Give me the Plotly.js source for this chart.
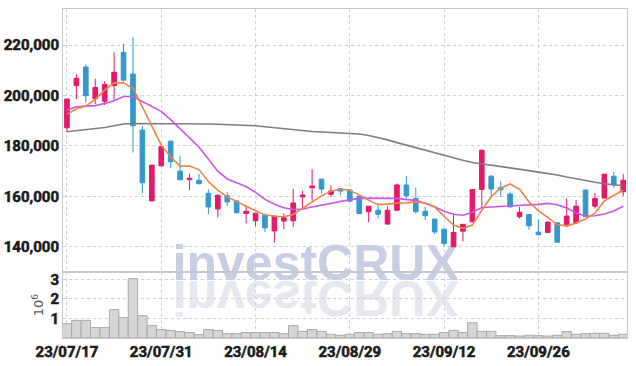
<!DOCTYPE html>
<html>
<head>
<meta charset="utf-8">
<script src="https://cdn.plot.ly/plotly-3.0.1.min.js"></script>
<style>
html,body{margin:0;padding:0;background:#fff;}
#chart{width:636px;height:366px;}
.xaxislayer-above text, .yaxislayer-above text {stroke:#1a1a1a; stroke-width:0.55px;}
</style>
</head>
<body>
<div id="chart"></div>
<script>
// Trading days (yy/mm/dd)
const dates = ["23/07/17","23/07/18","23/07/19","23/07/20","23/07/21","23/07/24","23/07/25","23/07/26","23/07/27","23/07/28",
"23/07/31","23/08/01","23/08/02","23/08/03","23/08/04","23/08/07","23/08/08","23/08/09","23/08/10","23/08/11",
"23/08/14","23/08/16","23/08/17","23/08/18","23/08/21","23/08/22","23/08/23","23/08/24","23/08/25","23/08/28",
"23/08/29","23/08/30","23/08/31","23/09/01","23/09/04","23/09/05","23/09/06","23/09/07","23/09/08","23/09/11",
"23/09/12","23/09/13","23/09/14","23/09/15","23/09/18","23/09/19","23/09/20","23/09/21","23/09/22","23/09/25",
"23/09/26","23/09/27","23/10/04","23/10/05","23/10/06","23/10/10","23/10/11","23/10/12","23/10/13","23/10/16"];

const openP  = [187200,203900,211300,198700,197700,203900,217100,208500,186300,158200,
172100,181900,170000,166600,166400,161200,155000,160200,158200,153200,
150300,152500,146300,150200,150300,159800,163400,166800,160800,163000,
162500,160100,153900,154500,149000,154500,164500,159200,154100,151000,
147000,140000,146200,149900,162700,168000,163400,160900,151900,152800,
145800,145700,149500,148700,149500,162500,156100,159300,168000,161800];
const highP  = [198600,208400,212300,206600,205700,217100,220500,223100,187900,172600,
179900,182100,176100,169000,169000,162700,160900,161800,158400,156500,
153500,152700,152300,153200,163000,162200,170700,167000,164300,163200,
162600,160200,156200,157400,156100,165100,168000,163500,155800,151100,
147100,153200,149000,162900,178500,168400,165800,161800,155800,153000,
150800,150000,149600,159200,158500,162600,161400,168900,169700,168800];
const lowP   = [185600,198600,197300,196600,196200,197700,205400,177400,161200,158000,
171900,171100,166300,162500,164700,152900,151600,156200,153300,149300,
148200,145900,141700,147000,147900,154800,158200,161200,159800,160500,
158000,153100,149700,151200,148800,154300,159000,153200,150600,145000,
140000,139900,142200,149700,155800,160100,159800,155600,151200,146700,
144500,145500,141700,147700,149300,151800,155200,159200,163400,160100];
const closeP = [198600,206800,199900,203200,204400,209200,206100,188000,165400,172400,
179700,173700,166600,167200,165000,155800,160400,157800,153500,154100,
153300,147500,152200,151500,157400,160500,164100,162900,162100,162100,
158100,153200,156100,152900,154500,164500,160200,153900,152300,145900,
141300,145700,148900,162700,178300,162900,162600,155800,153700,148300,
144800,149800,141800,152200,156100,151900,159200,168800,164500,166400];

// Moving averages
const ma5  = [192600,194600,195800,198500,202100,205000,205000,202800,195500,187600,
180300,175700,172000,172000,170600,165900,162500,159800,157800,156100,
154300,152700,152100,151900,152800,155200,157800,160200,162000,162900,
162300,160600,158500,156700,156900,157300,157400,157800,157400,155800,
152100,148600,147300,148600,154500,159800,163300,164900,162900,157800,
154300,151400,148800,148200,149400,151000,153300,158200,160500,162500];
const ma20 = [194200,195500,195800,196000,196800,197900,199600,199600,197600,195600,
193700,190400,187000,183200,179600,174800,170000,166900,165300,163900,
161600,158800,156900,155500,154800,155000,155800,156400,157200,158000,
158600,159200,159300,159300,159300,159200,158700,158400,157300,155900,
154100,152900,152500,153700,155600,155800,155900,156000,156300,156400,
156800,157200,156700,155400,153500,152200,152300,153000,154200,156100];
const ma60 = [185600,186000,186500,186800,187300,188000,188700,188900,188900,188900,
188900,188900,188900,188900,188800,188700,188600,188500,188300,188100,
188000,187600,187200,186800,186300,185900,185700,185500,185300,185100,
184900,184700,184100,183400,182400,181300,180300,179000,178000,177100,
176300,175300,174300,173400,172900,172300,171700,171200,170700,170200,
169600,169100,168500,167700,166900,166200,165600,165000,164500,164200];

// Volume in millions of shares
const volumeM = [0.73,0.90,0.90,0.53,0.53,1.45,1.04,3.03,1.14,0.63,
0.43,0.38,0.33,0.28,0.17,0.43,0.38,0.22,0.22,0.28,
0.28,0.28,0.28,0.22,0.63,0.34,0.43,0.34,0.19,0.14,
0.19,0.28,0.28,0.19,0.22,0.34,0.22,0.22,0.19,0.19,
0.28,0.39,0.28,0.78,0.34,0.34,0.12,0.12,0.10,0.14,
0.12,0.10,0.14,0.33,0.19,0.22,0.24,0.24,0.14,0.19];

const xTickVals = ["23/07/17","23/07/31","23/08/14","23/08/29","23/09/12","23/09/26"];
const priceTicks = [140000,160000,180000,200000,220000];
const volTicks = [1,2,3];

const RED = "#e5186b", BLUE = "#3399cc";
const tickFont = {family:"Liberation Sans Narrow, Roboto, sans-serif", size:15, color:"#1a1a1a", weight:700};
const gridC = "#cfcfe0";

const traces = [
  {type:"candlestick", x:dates, open:openP, high:highP, low:lowP, close:closeP,
   xaxis:"x", yaxis:"y",
   increasing:{line:{color:RED,width:1}, fillcolor:RED},
   decreasing:{line:{color:BLUE,width:1}, fillcolor:BLUE},
   whiskerwidth:0, hoverinfo:"skip"},
  {type:"scatter", mode:"lines", x:dates, y:ma60, line:{color:"#7f7f7f", width:1.6}, xaxis:"x", yaxis:"y", hoverinfo:"skip"},
  {type:"scatter", mode:"lines", x:dates, y:ma20, line:{color:"#c957ec", width:1.6}, xaxis:"x", yaxis:"y", hoverinfo:"skip"},
  {type:"scatter", mode:"lines", x:dates, y:ma5, line:{color:"#ef8447", width:1.6}, xaxis:"x", yaxis:"y", hoverinfo:"skip"},
  {type:"bar", x:dates, y:volumeM, xaxis:"x", yaxis:"y2", width:1,
   marker:{color:"#d6d6d6", line:{color:"#a9a9a9", width:1}}, hoverinfo:"skip"}
];

const volTop = (338-272)/329;
const wmY0 = (338-293)/329, wmY1 = (338-223)/329;

const layout = {
  width:636, height:366,
  margin:{l:63, r:9, t:9, b:28, pad:0},
  paper_bgcolor:"#fff", plot_bgcolor:"#fff",
  showlegend:false,
  xaxis:{type:"category", range:[-0.42,59.4], anchor:"y2", domain:[0,1],
    tickvals:xTickVals, ticktext:xTickVals, ticks:"", tickfont:tickFont,
    showgrid:true, gridcolor:gridC, griddash:"dot", gridwidth:1,
    showline:true, linecolor:"#c8c8c8", linewidth:1, mirror:"all",
    rangeslider:{visible:false}, fixedrange:true, zeroline:false},
  yaxis:{domain:[volTop,1], range:[130000,234300], tickvals:priceTicks, tickformat:",d",
    ticks:"", tickfont:tickFont, showgrid:true, gridcolor:gridC, griddash:"dot",
    showline:true, linecolor:"#c8c8c8", linewidth:1, mirror:true, zeroline:false},
  yaxis2:{domain:[0,volTop], range:[0,3.37], tickvals:volTicks, ticks:"", tickfont:tickFont,
    showgrid:true, gridcolor:gridC, griddash:"dot",
    showline:true, linecolor:"#c8c8c8", linewidth:1, mirror:true, zeroline:false,
    title:{text:"10<sup>6</sup>", font:{family:"DejaVu Sans, sans-serif", size:13, color:"#555"}, standoff:3}},
  shapes:[
    {type:"rect", xref:"paper", yref:"paper", x0:0.048, x1:0.848, y0:wmY0, y1:wmY1,
     line:{width:0}, fillcolor:"rgba(0,0,0,0)", layer:"below",
     label:{text:"investCRUX", textposition:"middle center",
       font:{family:"Liberation Sans, Arial, sans-serif", size:50, color:"#c8cfe5", weight:"bold"}}},
    {type:"rect", xref:"paper", yref:"paper", x0:0.048, x1:0.848, y0:wmY0, y1:wmY1,
     line:{width:0}, fillcolor:"rgba(0,0,0,0)", layer:"below",
     label:{text:"investCRUX", textposition:"middle center",
       font:{family:"Liberation Sans, Arial, sans-serif", size:50, color:"#e7e7ef", weight:"bold"}}}
  ]
};

Plotly.newPlot("chart", traces, layout, {displayModeBar:false, staticPlot:true}).then(function(gd){
  const texts = Array.from(gd.querySelectorAll("text")).filter(t => t.textContent === "investCRUX");
  if (texts.length >= 2) {
    const orig = texts[0], refl = texts[1];
    const bb = orig.getBBox();
    const baseline = bb.y + bb.height * 0.905 / 1.117;
    refl.setAttribute("transform", "translate(0," + (2*baseline) + ") scale(1,-1)");
  }
});
</script>
</body>
</html>
